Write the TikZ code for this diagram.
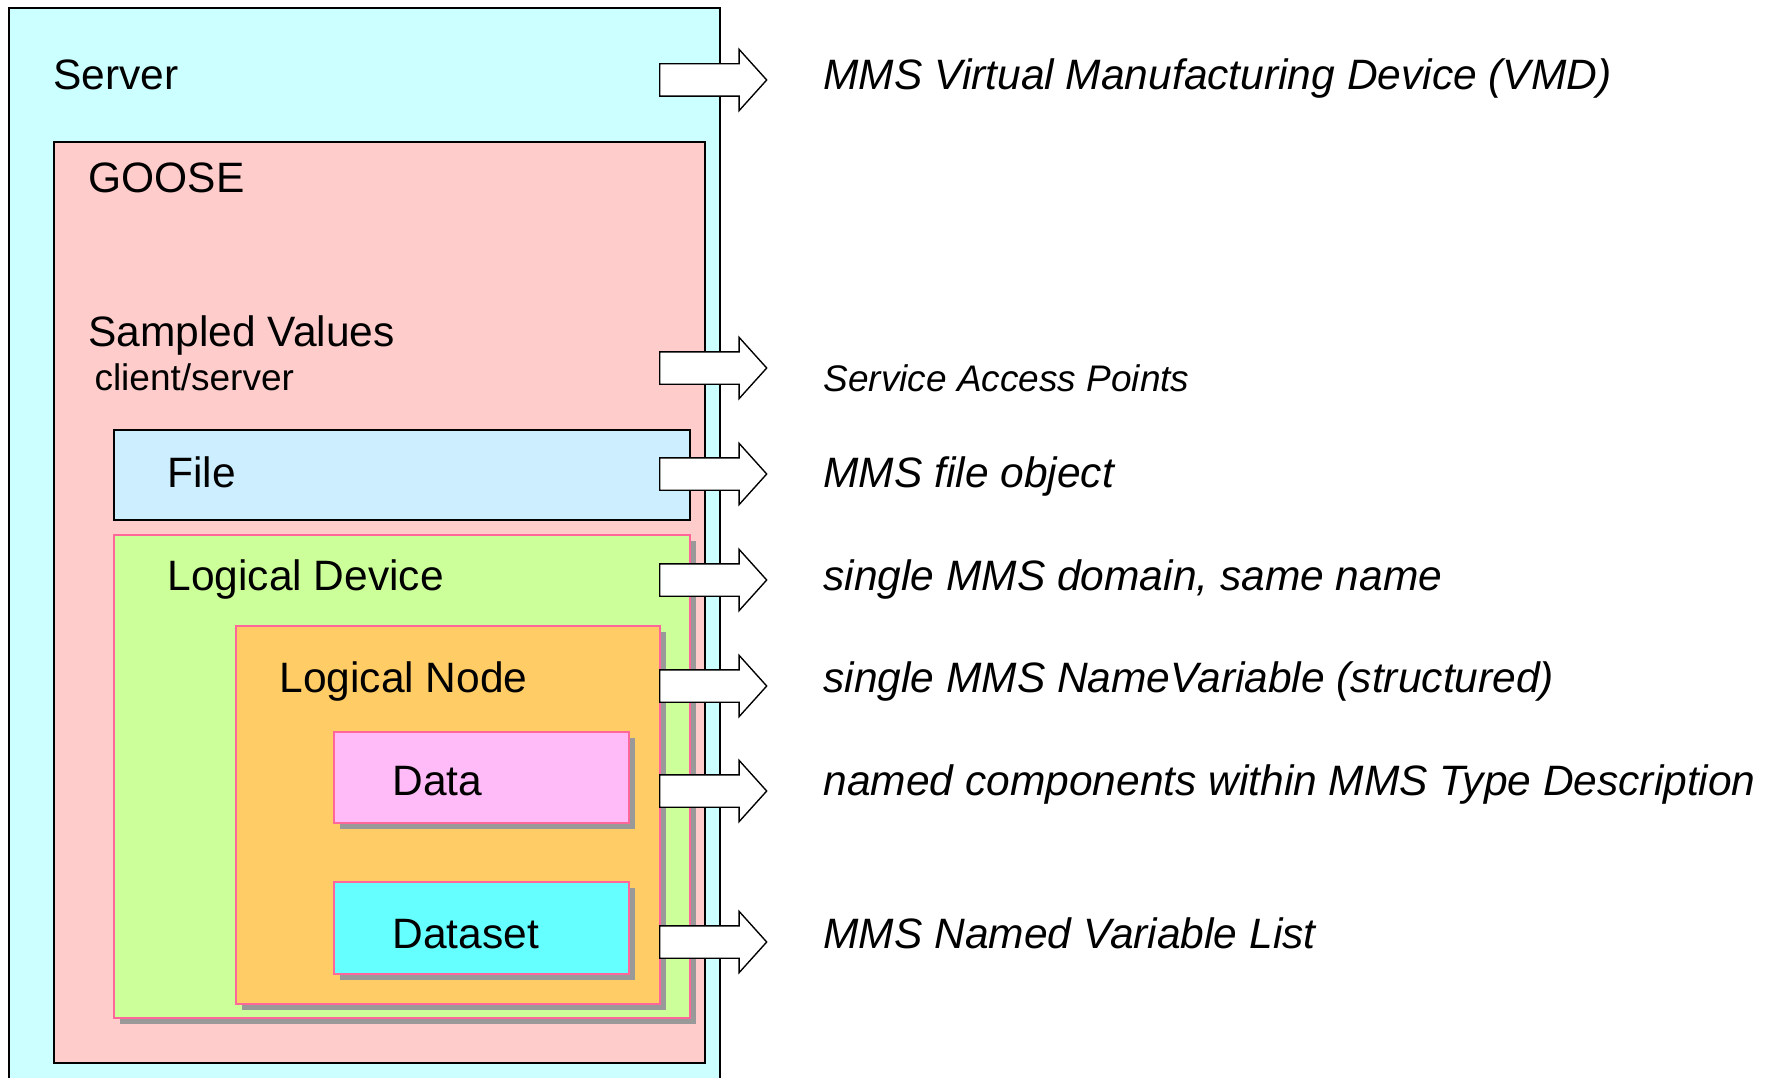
\documentclass[tikz,border=0pt]{standalone}
\usepackage{fontspec}
\setmainfont{Liberation Sans}
\usepackage{xcolor}
\usetikzlibrary{shapes.arrows, shadows, fit}
\definecolor{servercyan}{HTML}{CCFFFF}
\definecolor{goosepink}{HTML}{FFCCCC}
\definecolor{fileblue}{HTML}{CCEEFF}
\definecolor{devicegreen}{HTML}{CCFF99}
\definecolor{nodeorange}{HTML}{FFCC66}
\definecolor{datapink}{HTML}{FFBBF8}
\definecolor{datasetcyan}{HTML}{66FFFF}
\definecolor{edgepink}{HTML}{FF6699}
\definecolor{shadowgray}{HTML}{999999}
\tikzset{
    box/.style={rectangle, draw, line width=0.55pt, inner sep=0pt},
    innerbox/.style={box, draw=edgepink, drop shadow={shadow xshift=2.2pt, shadow yshift=-2.2pt, fill=shadowgray, opacity=1}},
    boxtext/.style={anchor=base west, inner sep=0pt, font=\fontsize{17}{20}\selectfont},
    smalltext/.style={anchor=base west, inner sep=0pt, font=\fontsize{14.8}{18}\selectfont},
    note/.style={anchor=base west, inner sep=0pt, font=\fontsize{17}{20}\selectfont\itshape},
    smallnote/.style={anchor=base west, inner sep=0pt, font=\fontsize{14.8}{18}\selectfont\itshape},
    maparrow/.style={single arrow, draw, fill=white, line width=0.55pt, inner sep=0pt, inner ysep=6.2pt,
        minimum height=42.8pt, single arrow head extend=5.8pt, single arrow tip angle=96, anchor=tail}
}

\begin{document}
\begin{tikzpicture}[x=0.4pt, y=-0.4pt]
    \clip (0,0) rectangle (1777,1078);

    % nested boxes
    \node[box, fill=servercyan, fit={(9,8) (720,1095)}] (server) {};
    \node[box, fill=goosepink, fit={(54,142) (705,1063)}] (goose) {};
    \node[box, fill=fileblue, fit={(114,430) (690,520)}] (file) {};
    \node[innerbox, fill=devicegreen, fit={(114,535) (690,1018)}] (ldevice) {};
    \node[innerbox, fill=nodeorange, fit={(236,626) (660,1004)}] (lnode) {};
    \node[innerbox, fill=datapink, fit={(334,732) (629,823)}] (data) {};
    \node[innerbox, fill=datasetcyan, fit={(334,882) (629,974)}] (dataset) {};

    % box texts
    \node[boxtext] (servertxt) at (53,90) {Server};
    \node[boxtext] (goosetxt) at (88,193) {GOOSE};
    \node[boxtext] (svtxt) at (88,346) {Sampled Values};
    \node[smalltext] (cstxt) at (94,390) {client/server};
    \node[boxtext] (filetxt) at (167,487) {File};
    \node[boxtext] (ldtxt) at (167,590) {Logical Device};
    \node[boxtext] (lntxt) at (279,692) {Logical Node};
    \node[boxtext] (datatxt) at (392,795) {Data};
    \node[boxtext] (dstxt) at (392,948) {Dataset};

    % mapping arrows
    \node[maparrow] (arrvmd) at (659,80) {};
    \node[maparrow] (arrsap) at (659,368) {};
    \node[maparrow] (arrfile) at (659,474) {};
    \node[maparrow] (arrld) at (659,580) {};
    \node[maparrow] (arrln) at (659,686) {};
    \node[maparrow] (arrdata) at (659,791) {};
    \node[maparrow] (arrds) at (659,942) {};

    % MMS side
    \node[note] (vmdtxt) at (823,90) {MMS Virtual Manufacturing Device (VMD)};
    \node[smallnote] (saptxt) at (823,391) {Service Access Points};
    \node[note] (mmsfiletxt) at (823,487) {MMS file object};
    \node[note] (domaintxt) at (823,590) {single MMS domain, same name};
    \node[note] (nvtxt) at (823,692) {single MMS NameVariable (structured)};
    \node[note] (comptxt) at (823,795) {named components within MMS Type Description};
    \node[note] (nvltxt) at (823,948) {MMS Named Variable List};
\end{tikzpicture}
\end{document}
